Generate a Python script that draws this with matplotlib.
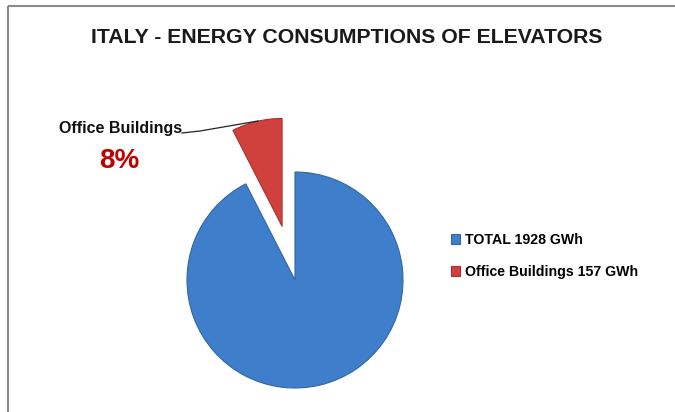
import matplotlib.pyplot as plt
from matplotlib.patches import Rectangle

# data
labels = ['TOTAL 1928 GWh', 'Office Buildings 157 GWh']
values = [1928, 157]
colors = ['#3f7ecb', '#d0413d']
edges = ['#33669f', '#a83431']

title = 'ITALY - ENERGY CONSUMPTIONS OF ELEVATORS'
font = ['Liberation Sans Narrow', 'Liberation Sans', 'DejaVu Sans']

R = 108
explode = [0, 0.51 * R]  # pie takes the offset in data units

fig = plt.figure(figsize=(6.75, 4.12), dpi=100)
ax = fig.add_axes([0, 0, 1, 1])

# pie drawn in pixel coords (y axis inverted below)
wedges, _ = ax.pie(values, colors=colors, explode=explode, startangle=-90,
                   counterclock=True, center=(295, 280), radius=R,
                   frame=True, wedgeprops=dict(linewidth=0.8))
for w, ec in zip(wedges, edges):
    w.set_edgecolor(ec)
ax.set_xlim(0, 675)
ax.set_ylim(412, 0)
ax.set_aspect('equal')
ax.axis('off')

# chart frame
ax.add_patch(Rectangle((8, 6), 700, 420, fill=False, edgecolor='#8a8a8a', lw=1.5))

ax.text(347, 37, title, ha='center', va='center', fontsize=15.3, fontweight='bold',
        family=font, color='#1a1a1a')

# data label
ax.plot([182, 200, 258], [133, 131, 121], color='#222222', lw=0.9)
ax.text(121, 129, 'Office Buildings', ha='center', va='center', fontsize=11.5,
        fontweight='bold', family=font, color='#111111')
ax.text(119, 161, '8%', ha='center', va='center', fontsize=20,
        fontweight='bold', family=font, color='#c00000')

leg = ax.legend(wedges, labels, loc='center left',
                bbox_to_anchor=(438 / 675, 1 - 256 / 412), frameon=False,
                handlelength=0.65, handleheight=0.65, handletextpad=0.35,
                labelspacing=1.25, prop=dict(family=font, weight='bold', size=10.2))

fig.savefig('out.png', dpi=100)
